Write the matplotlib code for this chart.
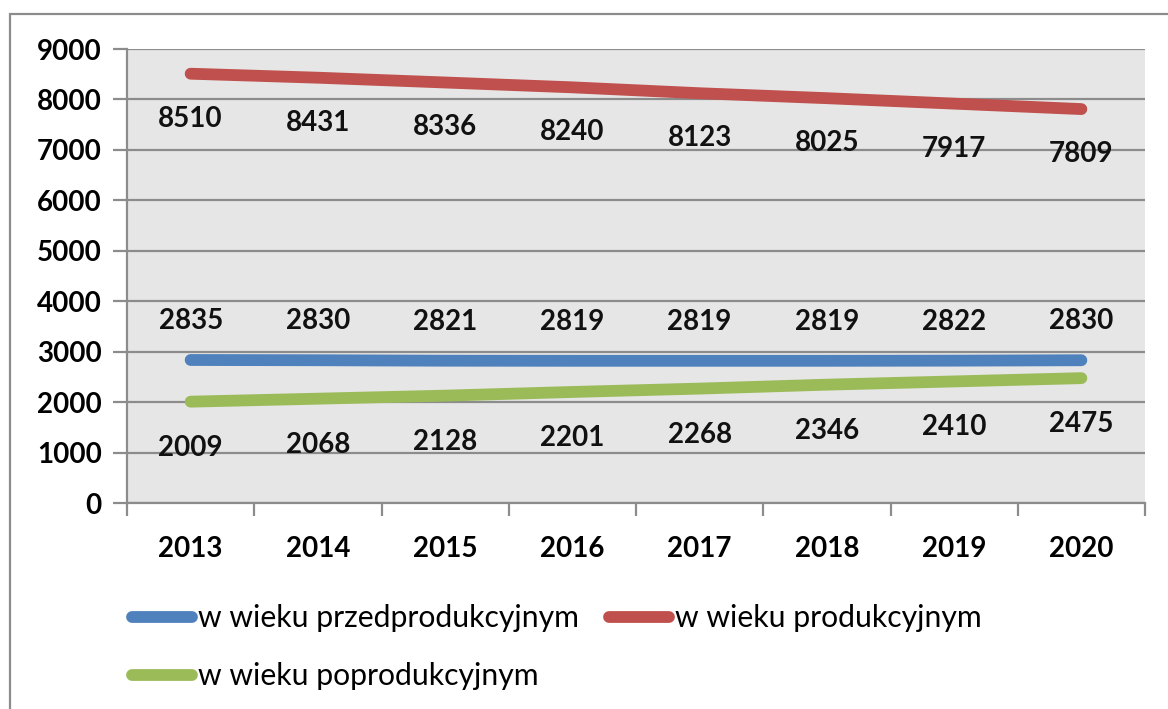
import matplotlib
matplotlib.use('Agg')
import matplotlib.pyplot as plt
from matplotlib.patches import Rectangle

years = ['2013', '2014', '2015', '2016', '2017', '2018', '2019', '2020']
przed = [2835, 2830, 2821, 2819, 2819, 2819, 2822, 2830]
prod = [8510, 8431, 8336, 8240, 8123, 8025, 7917, 7809]
popr = [2009, 2068, 2128, 2201, 2268, 2346, 2410, 2475]
names = ['w wieku przedprodukcyjnym', 'w wieku produkcyjnym', 'w wieku poprodukcyjnym']
yticks = [0, 1000, 2000, 3000, 4000, 5000, 6000, 7000, 8000, 9000]

plt.rcParams['font.family'] = ['Lato', 'DejaVu Sans']

fig = plt.figure(figsize=(11.68, 7.09), dpi=100)
ax = fig.add_axes([127 / 1168, 1 - 503 / 709, 1018 / 1168, 454 / 709])

# outer chart border (only left/top visible in the crop)
fig.patches.append(Rectangle((10 / 1168, -0.1), 1.2, 1 - 14 / 709 + 0.1,
                             transform=fig.transFigure, fill=False,
                             edgecolor='#8c8c8c', linewidth=1.6))

x = list(range(len(years)))
series = [(przed, '#4F81BD', 39), (prod, '#C0504D', -45), (popr, '#9BBB59', -46)]
lines = []
for (vals, col, off), name in zip(series, names):
    ln, = ax.plot(x, vals, color=col, linewidth=8.5, solid_capstyle='round', label=name)
    lines.append(ln)
    for xi, v in zip(x, vals):
        ax.annotate(str(v), (xi, v), xytext=(0, off), textcoords='offset pixels',
                    ha='center', va='center', fontsize=20, fontweight='bold',
                    color='#111111')

ax.set_facecolor('#e6e6e6')
ax.set_xlim(-0.5, len(years) - 0.5)
ax.set_ylim(0, 9000)
ax.set_yticks(yticks)
ax.set_yticklabels([str(t) for t in yticks], fontsize=20, fontweight='bold')
ax.set_xticks(x)
ax.set_xticklabels(years, fontsize=20, fontweight='bold')
ax.set_xticks([i - 0.5 for i in range(len(years) + 1)], minor=True)
ax.tick_params(axis='x', which='major', length=0, pad=24)
ax.tick_params(axis='x', which='minor', length=9, width=1.6, color='#8c8c8c', direction='out')
ax.tick_params(axis='y', length=10, width=1.6, color='#8c8c8c', pad=8)
ax.yaxis.grid(True, color='#8c8c8c', linewidth=1.6)
ax.set_axisbelow(True)
for s in ['top', 'right']:
    ax.spines[s].set_visible(False)
for s in ['left', 'bottom']:
    ax.spines[s].set_color('#8c8c8c')
    ax.spines[s].set_linewidth(1.6)

# column-major fill: blue + green in first column, red in second
fig.legend(handles=[lines[0], lines[2], lines[1]], loc='upper left',
           bbox_to_anchor=(111 / 1168, 1 - 583 / 709),
           ncol=2, frameon=False, fontsize=21.7, handlelength=2.0, handletextpad=0.2,
           columnspacing=0.98, labelspacing=1.0, borderpad=0.2)

fig.savefig('out.png', dpi=100)
